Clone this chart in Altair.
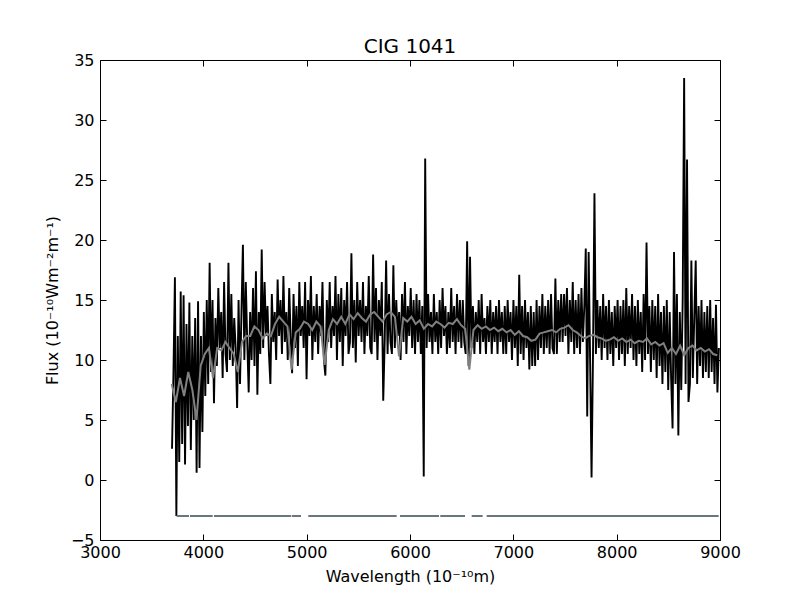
import altair as alt
import pandas as pd

# ---- observed spectrum (black), sampled every 14 A starting at 3697 A ----
BLACK_START = 3697
BLACK_STEP = 14
black_flux = [
    2.6, 9.0, 16.9, -3.0, 12.0, 1.5, 15.7, 3.0, 15.4, 1.3,
    13.0, 4.5, 14.8, 2.5, 12.0, 5.0, 13.5, 0.6, 14.9, 1.0,
    12.0, 4.0, 14.0, 7.0, 15.0, 8.0, 18.1, 9.0, 15.0, 6.4,
    13.5, 9.5, 16.0, 11.0, 14.0, 8.5, 16.5, 10.5, 9.0, 18.1,
    10.0, 15.5, 9.5, 13.5, 11.0, 6.0, 15.0, 8.0, 14.0, 19.6,
    10.0, 16.5, 11.5, 7.3, 14.0, 10.0, 16.0, 9.5, 17.4, 7.1,
    14.0, 10.5, 19.2, 11.0, 16.5, 12.0, 14.5, 10.5, 8.0, 15.5,
    11.5, 14.0, 10.0, 16.7, 12.0, 15.0, 10.5, 17.0, 11.5, 14.0,
    10.0, 16.0, 12.0, 8.9, 15.5, 11.0, 14.5, 9.5, 16.5, 12.0,
    14.5, 11.0, 16.5, 8.4, 15.0, 12.0, 17.0, 10.0, 14.5, 11.5,
    15.5, 10.5, 14.5, 12.0, 16.5, 10.0, 8.7, 15.0, 11.5, 16.5,
    11.0, 14.5, 12.0, 17.0, 10.0, 15.5, 11.5, 16.0, 9.5, 15.0,
    12.0, 16.5, 10.5, 11.5, 18.9, 11.0, 15.0, 9.8, 16.5, 12.0,
    15.0, 11.5, 16.5, 10.5, 14.5, 12.0, 17.0, 11.0, 10.5, 18.8,
    11.5, 16.0, 10.0, 15.0, 12.0, 16.5, 6.6, 11.5, 18.3, 10.5,
    15.5, 11.5, 10.5, 17.9, 11.0, 15.0, 12.0, 14.0, 10.0, 15.5,
    11.5, 16.5, 10.5, 14.5, 12.0, 16.0, 11.0, 15.0, 10.5, 15.5,
    11.5, 15.0, 10.5, 14.5, 0.3, 26.8, 11.0, 15.5, 11.5, 14.0,
    10.5, 15.5, 11.5, 14.0, 10.5, 15.0, 11.0, 16.0, 12.0, 14.5,
    10.5, 14.0, 11.0, 16.0, 11.5, 14.5, 10.5, 15.5, 11.5, 15.0,
    11.0, 15.0, 11.5, 10.5, 19.9, 9.5, 18.6, 11.0, 14.5, 10.5,
    14.0, 11.5, 15.0, 10.5, 15.5, 11.5, 13.5, 10.5, 14.5, 11.5,
    15.0, 10.5, 14.0, 11.5, 14.5, 10.5, 15.0, 11.5, 14.0, 10.5,
    14.5, 10.5, 15.0, 11.5, 14.0, 10.0, 15.0, 11.0, 14.5, 9.5,
    17.1, 10.5, 14.5, 10.0, 15.0, 11.0, 14.0, 9.2, 14.5, 9.5,
    14.0, 9.5, 15.0, 10.0, 14.5, 11.0, 15.5, 10.5, 14.5, 11.0,
    15.0, 10.5, 15.5, 11.0, 10.5, 16.8, 10.5, 15.0, 11.5, 15.5,
    11.5, 15.5, 12.0, 16.0, 10.5, 15.0, 11.5, 16.5, 10.5, 15.0,
    11.0, 15.5, 10.5, 16.0, 11.5, 14.5, 19.3, 5.3, 19.0, 10.0,
    0.2, 10.5, 23.9, 10.5, 15.0, 11.0, 14.5, 10.0, 15.5, 11.0,
    14.5, 10.0, 15.0, 10.5, 14.0, 9.5, 14.5, 11.0, 15.0, 10.0,
    14.5, 10.5, 15.0, 9.5, 16.0, 10.5, 14.5, 11.0, 15.5, 10.0,
    14.5, 9.5, 15.0, 10.5, 14.0, 9.0, 15.5, 10.0, 19.8, 10.5,
    14.5, 9.0, 15.0, 10.0, 14.5, 8.5, 15.5, 9.5, 14.0, 8.0,
    14.5, 9.0, 15.0, 7.5, 14.0, 8.5, 4.3, 19.0, 8.0, 15.5,
    3.7, 14.0, 7.5, 15.0, 33.5, 8.0, 26.7, 6.5, 8.0, 18.3,
    8.5, 13.5, 18.3, 8.0, 14.5, 9.5, 15.0, 8.5, 14.0, 9.0,
    14.5, 8.5, 15.0, 9.0, 13.5, 8.0, 14.6, 7.3, 11.0,
]

# ---- model spectrum (gray), sampled every 40 A starting at 3694 A ----
GRAY_START = 3694
GRAY_STEP = 40
gray_flux = [
    8.0, 6.5, 8.5, 7.0, 9.0, 7.5, 5.0, 9.5, 10.5, 11.0,
    8.5, 11.0, 10.8, 11.5, 11.0, 10.5, 9.0, 11.5, 12.0, 12.0,
    12.8, 12.5, 11.8, 12.2, 12.0, 13.0, 13.6, 13.2, 12.8, 9.2,
    12.3, 12.6, 13.2, 13.0, 12.5, 13.2, 12.8, 9.6, 12.5, 13.4,
    13.0, 13.6, 13.0, 13.8, 13.4, 13.9, 13.5, 13.2, 13.8, 14.0,
    13.6, 13.2, 13.8, 14.0, 13.6, 10.3, 13.5, 13.2, 13.6, 13.0,
    13.3, 12.6, 13.0, 12.8, 13.2, 13.0, 12.7, 13.1, 13.0, 13.4,
    12.9, 12.6, 9.2, 12.5, 12.9, 12.6, 12.8, 12.5, 12.7, 12.4,
    12.6, 12.3, 12.5, 12.1, 12.4, 12.0, 11.9, 11.6, 11.7, 12.2,
    12.3, 12.4, 12.5, 12.3, 12.6, 12.7, 12.9, 12.5, 12.3, 12.0,
    11.8, 12.0, 12.1, 11.9, 11.8, 11.6, 11.7, 11.9, 11.6, 11.8,
    11.5, 11.7, 11.4, 11.6, 11.5, 11.8, 11.3, 11.5, 11.2, 11.4,
    10.6, 11.0, 10.5, 11.2, 10.4, 11.0, 11.2, 10.8, 11.0, 10.7,
    10.9, 10.5, 10.4,
]

# ---- mask line segments at flux -3 ----
mask_start = [3742, 3871, 4103, 4855, 5016, 5903, 6293, 6597, 6742]
mask_end = [3861, 4091, 4848, 4945, 5871, 6281, 6532, 6703, 8987]
mask_level = -3

x_ticks = [3000, 4000, 5000, 6000, 7000, 8000, 9000]
y_ticks = [-5, 0, 5, 10, 15, 20, 25, 30, 35]

black_df = pd.DataFrame({
    "wave": [BLACK_START + BLACK_STEP * i for i in range(len(black_flux))],
    "flux": black_flux,
})
gray_df = pd.DataFrame({
    "wave": [GRAY_START + GRAY_STEP * i for i in range(len(gray_flux))],
    "flux": gray_flux,
})
mask_df = pd.DataFrame({
    "start": mask_start,
    "end": mask_end,
    "level": [mask_level] * len(mask_start),
})

xs = alt.Scale(domain=[3000, 9000], nice=False, zero=False)
ys = alt.Scale(domain=[-5, 35], nice=False, zero=False)

black = alt.Chart(black_df).mark_line(color="black", strokeWidth=1.9, clip=True).encode(
    x=alt.X("wave:Q", scale=xs, axis=alt.Axis(
        orient="bottom", values=x_ticks, format="d", offset=-6, labelPadding=4,
        labelFlush=False, title="Wavelength (10⁻¹⁰m)", titlePadding=8)),
    y=alt.Y("flux:Q", scale=ys, axis=alt.Axis(
        orient="left", values=y_ticks, format="d", offset=-6, labelPadding=6,
        labelFlush=False, title="Flux (10⁻¹⁰Wm⁻²m⁻¹)", titlePadding=10)),
)

gray = alt.Chart(gray_df).mark_line(color="#808080", strokeWidth=2.0, clip=True).encode(
    x=alt.X("wave:Q", scale=xs, axis=alt.Axis(
        orient="top", values=x_ticks, offset=-6, labels=False, title=None)),
    y=alt.Y("flux:Q", scale=ys, axis=alt.Axis(
        orient="right", values=y_ticks, offset=-6, labels=False, title=None)),
)

mask = alt.Chart(mask_df).mark_rule(color="#66777f", strokeWidth=2).encode(
    x=alt.X("start:Q", scale=xs, axis=None),
    x2="end:Q",
    y=alt.Y("level:Q", scale=ys, axis=None),
)

chart = (
    alt.layer(black, gray, mask)
    .resolve_axis(x="independent", y="independent")
    .properties(
        width=620,
        height=480,
        title=alt.Title("CIG 1041", fontSize=20, font="DejaVu Sans", fontWeight="normal",
                        color="black", anchor="middle", offset=7, baseline="alphabetic",
                        frame="group", dy=28),
        autosize=alt.AutoSizeParams(type="none"),
        padding={"left": 92, "top": 52, "right": 72, "bottom": 52},
        background="white",
    )
    .configure_view(stroke="black", strokeWidth=1)
    .configure_axis(
        grid=False, domain=False, tickSize=6, tickWidth=1, tickColor="black",
        labelFont="DejaVu Sans", labelFontSize=16, labelColor="black",
        titleFont="DejaVu Sans", titleFontSize=16, titleFontWeight="normal", titleColor="black",
    )
)

chart.save("out.html", embed_options={"renderer": "svg", "actions": False})
